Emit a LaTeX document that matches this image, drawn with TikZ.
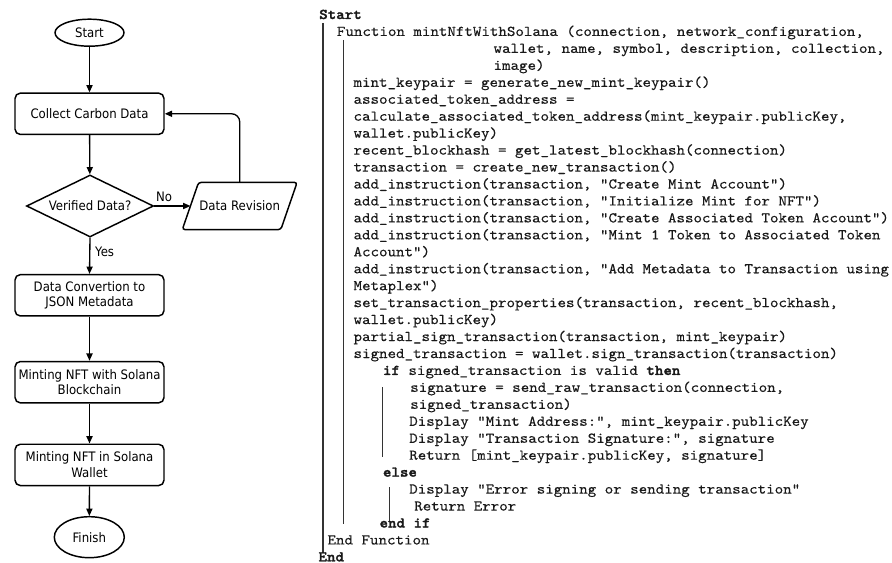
\documentclass[tikz,border=0pt]{standalone}
\usepackage{fontspec}
\usetikzlibrary{shapes.geometric,arrows.meta}
\newfontfamily\flowfont{DejaVu Sans}[FakeStretch=0.9]
\newfontfamily\codefont{lmmono10-regular}[Extension=.otf, FakeStretch=1.084, FakeBold=0.3, BoldFont=lmmonolt10-bold, BoldFeatures={FakeBold=1.6}]
\begin{document}
\begin{tikzpicture}[x=0.75pt,y=-0.75pt,
  fc/.style={font=\flowfont\fontsize{9.78}{11.8}\selectfont, text=black},
  term/.style={fc, ellipse, draw, line width=1.1pt, inner sep=0pt},
  proc/.style={fc, rectangle, rounded corners=4pt, draw, line width=1.1pt, inner sep=1pt,
     minimum width=111.75pt, minimum height=31pt, align=center},
  decision/.style={fc, diamond, draw, line width=1.1pt, inner sep=0pt, aspect=2.05,
     minimum width=95.25pt, minimum height=46.5pt},
  iotext/.style={fc, inner sep=0pt, minimum width=73.5pt, minimum height=35pt},
  lbl/.style={fc, inner sep=1pt},
  arr/.style={-{Triangle[length=5.5pt,width=4.6pt]}, line width=1pt},
  code/.style={anchor=base west, inner sep=0pt, font=\codefont\fontsize{11.2}{12.7}\selectfont, text=black!90},
  guide/.style={line width=1.2pt, draw=black!80},
  guidein/.style={line width=0.8pt, draw=black!80}
]
\useasboundingbox (0,0) rectangle (892,563);

% ---------------- flowchart ----------------
\node[term, minimum width=51.75pt, minimum height=20.25pt] (start) at (89.5,32.7) {Start};
\node[proc] (collect) at (89.5,113.8) {Collect Carbon Data};
\node[decision] (verify) at (90,206) {Verified Data?};
\node[iotext] (rev) at (239.7,206) {Data Revision};
\draw[line width=1.1pt, rounded corners=2pt]
  ([xshift=6.1pt]rev.north west) -- ([xshift=6.1pt]rev.north east)
  -- ([xshift=-6.1pt]rev.south east) -- ([xshift=-6.1pt]rev.south west) -- cycle;
\node[proc] (conv) at (89.5,295.3) {Data Convertion to\\JSON Metadata};
\node[proc] (mintsol) at (89.5,382.2) {Minting NFT with Solana\\Blockchain};
\node[proc] (mintwal) at (89.5,464.9) {Minting NFT in Solana\\Wallet};
\node[term, minimum width=52.5pt, minimum height=30.75pt] (finish) at (89.3,537.2) {Finish};

\draw[arr] (start) -- (collect);
\draw[arr] (collect) -- (verify);
\draw[arr] (verify.east) -- node[lbl, pos=0.27, above=1.5pt] (nolbl) {No} (rev.west);
\draw[arr] (verify.south) -- node[lbl, pos=0.4, right=2.5pt] (yeslbl) {Yes} (conv.north);
\draw[arr, rounded corners=6pt] (rev.north) |- (collect.east);
\draw[arr] (conv) -- (mintsol);
\draw[arr] (mintsol) -- (mintwal);
\draw[arr] (mintwal) -- (finish);

% ---------------- pseudocode ----------------
\coordinate (g1a) at (322.7,23);   \coordinate (g1b) at (322.7,553);
\coordinate (g2a) at (343.3,40);   \coordinate (g2b) at (343.3,524);
\coordinate (g3a) at (382.7,387);  \coordinate (g3b) at (382.7,457);
\coordinate (g4a) at (389.3,487);  \coordinate (g4b) at (389.3,521);
\draw[guide] (g1a) -- (g1b);
\draw[guide] (g2a) -- (g2b);
\draw[guidein] (g3a) -- (g3b);
\draw[guidein] (g4a) -- (g4b);

\node[code] (c0) at (319,19) {\textbf{Start}};
\node[code] (c1) at (336.7,35.95) {Function mintNftWithSolana (connection, network\_configuration,};
\node[code] (c2) at (493.3,52.9) {wallet, name, symbol, description, collection,};
\node[code] (c3) at (493.3,69.85) {image)};
\node[code] (c4) at (353.3,86.8) {mint\_keypair = generate\_new\_mint\_keypair()};
\node[code] (c5) at (353.3,103.75) {associated\_token\_address =};
\node[code] (c6) at (353.3,120.7) {calculate\_associated\_token\_address(mint\_keypair.publicKey,};
\node[code] (c7) at (353.3,137.65) {wallet.publicKey)};
\node[code] (c8) at (353.3,154.6) {recent\_blockhash = get\_latest\_blockhash(connection)};
\node[code] (c9) at (353.3,171.55) {transaction = create\_new\_transaction()};
\node[code] (c10) at (353.3,188.5) {add\_instruction(transaction, "Create Mint Account")};
\node[code] (c11) at (353.3,205.45) {add\_instruction(transaction, "Initialize Mint for NFT")};
\node[code] (c12) at (353.3,222.4) {add\_instruction(transaction, "Create Associated Token Account")};
\node[code] (c13) at (353.3,239.35) {add\_instruction(transaction, "Mint 1 Token to Associated Token};
\node[code] (c14) at (353.3,256.3) {Account")};
\node[code] (c15) at (353.3,273.25) {add\_instruction(transaction, "Add Metadata to Transaction using};
\node[code] (c16) at (353.3,290.2) {Metaplex")};
\node[code] (c17) at (353.3,307.15) {set\_transaction\_properties(transaction, recent\_blockhash,};
\node[code] (c18) at (353.3,324.1) {wallet.publicKey)};
\node[code] (c19) at (353.3,341.05) {partial\_sign\_transaction(transaction, mint\_keypair)};
\node[code] (c20) at (353.3,358.0) {signed\_transaction = wallet.sign\_transaction(transaction)};
\node[code] (c21) at (382.7,374.95) {\textbf{if} signed\_transaction is valid \textbf{then}};
\node[code] (c22) at (410,391.9) {signature = send\_raw\_transaction(connection,};
\node[code] (c23) at (410,408.85) {signed\_transaction)};
\node[code] (c24) at (409,425.8) {Display "Mint Address:", mint\_keypair.publicKey};
\node[code] (c25) at (409,442.75) {Display "Transaction Signature:", signature};
\node[code] (c26) at (409,459.7) {Return [mint\_keypair.publicKey, signature]};
\node[code] (c27) at (382.7,476.65) {\textbf{else}};
\node[code] (c28) at (409,493.6) {Display "Error signing or sending transaction"};
\node[code] (c29) at (414,510.55) {Return Error};
\node[code] (c30) at (379.3,527.5) {\textbf{end if}};
\node[code] (c31) at (327.3,544.45) {End Function};
\node[code] (c32) at (318.3,561.4) {\textbf{End}};
\end{tikzpicture}
\end{document}
